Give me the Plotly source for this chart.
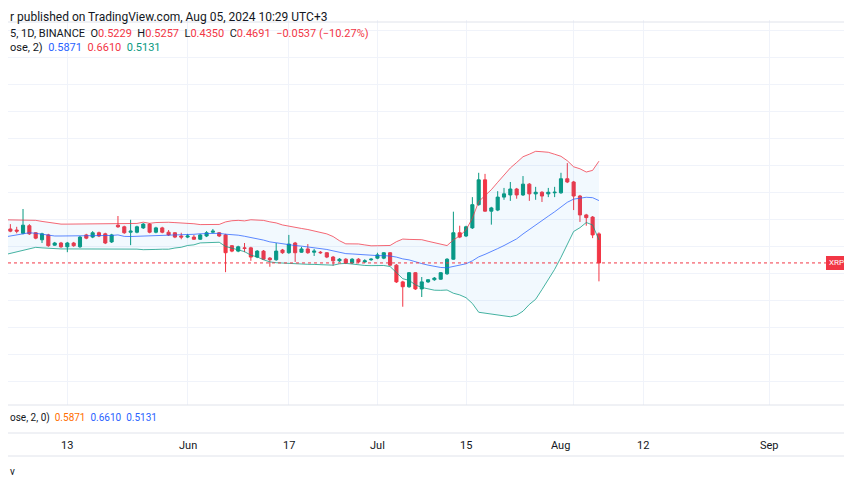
import pandas as pd
import plotly.graph_objects as go

dates = pd.date_range("2024-05-03", "2024-08-05", freq="D")
opens = [.517,.532,.530,.524,.538,.525,.512,.521,.502,.506,.499,.506,.499,.521,.517,.525,.523,.508,.539,.536,
         .526,.526,.534,.541,.526,.534,.526,.525,.519,.517,.517,.513,.519,.526,.525,.521,.501,.491,.497,.497,
         .480,.491,.478,.475,.493,.488,.506,.489,.495,.489,.489,.488,.480,.473,.476,.469,.476,.471,.475,.478,
         .478,.488,.465,.434,.425,.451,.421,.434,.438,.439,.449,.476,.525,.519,.534,.577,.623,.565,.567,.591,
         .595,.606,.595,.615,.597,.600,.597,.599,.599,.625,.619,.593,.558,.554,.5229]
highs = [.536,.541,.536,.569,.541,.526,.525,.523,.508,.508,.508,.508,.519,.523,.528,.527,.525,.523,.556,.538,
         .549,.538,.543,.543,.536,.536,.530,.526,.525,.523,.521,.523,.528,.532,.526,.523,.502,.501,.506,.499,
         .493,.493,.480,.506,.495,.521,.508,.499,.504,.495,.491,.489,.482,.478,.478,.478,.478,.476,.478,.488,
         .489,.489,.467,.436,.452,.452,.443,.439,.443,.452,.478,.564,.538,.538,.591,.636,.634,.573,.602,.608,
         .619,.608,.630,.617,.610,.602,.608,.610,.636,.654,.621,.595,.560,.556,.5257]
lows = [.515,.526,.524,.522,.521,.513,.506,.499,.501,.497,.489,.499,.497,.513,.515,.517,.504,.506,.534,.523,
        .502,.524,.532,.524,.524,.524,.519,.515,.513,.515,.512,.512,.517,.524,.517,.452,.489,.489,.489,.473,
        .478,.475,.462,.473,.486,.486,.471,.488,.486,.482,.486,.478,.464,.471,.467,.467,.469,.469,.473,.476,
        .476,.464,.432,.388,.423,.419,.406,.432,.436,.438,.447,.475,.515,.517,.532,.575,.564,.540,.565,.586,
        .584,.588,.593,.584,.586,.582,.591,.591,.597,.617,.567,.545,.538,.515,.4350]
closes = [.532,.528,.528,.539,.523,.515,.523,.501,.506,.499,.506,.501,.517,.515,.525,.519,.506,.521,.536,.525,
          .528,.536,.541,.526,.534,.526,.521,.517,.517,.519,.513,.521,.525,.528,.519,.488,.491,.499,.496,.480,
          .491,.476,.475,.491,.488,.504,.488,.495,.488,.491,.488,.480,.473,.476,.469,.476,.471,.473,.476,.484,
          .488,.465,.434,.425,.451,.421,.434,.438,.441,.451,.476,.525,.517,.536,.577,.623,.565,.571,.591,.597,
          .606,.595,.615,.597,.600,.593,.600,.600,.625,.619,.593,.558,.553,.521,.4691]
# band values for the first 19 sessions (before 20-day window fills)
upper_head = [.549,.549,.549,.549,.549,.548,.546,.544,.542,.541,.541,.541,.541,.541,.541,.541,.541,.541,.541]
basis_head = [.517,.519,.521,.523,.525,.524,.522,.520,.519,.519,.519,.519,.519,.519,.519,.519,.520,.520,.521]
lower_head = [.484,.487,.490,.492,.496,.498,.497,.496,.495,.495,.495,.495,.495,.495,.495,.495,.495,.496,.496]
tick_dates = ["2024-05-13", "2024-06-01", "2024-06-17", "2024-07-01", "2024-07-15", "2024-07-30", "2024-08-12", "2024-09-01"]
tick_text = ["13", "Jun", "17", "Jul", "15", "Aug", "12", "Sep"]
last_close = 0.4691

c = pd.Series(closes)
sma = c.rolling(20).mean()
sd = c.rolling(20).std(ddof=0)
basis = list(basis_head) + list(sma[19:])
upper = list(upper_head) + list((sma + 2 * sd)[19:])
lower = list(lower_head) + list((sma - 2 * sd)[19:])

H = 485
OFF = 8  # page body offset
def py(p):
    return 1 - (p - OFF) / H
def px(p):
    return (p - OFF) / 852

fig = go.Figure()
fig.add_trace(go.Scatter(x=dates, y=upper, mode="lines", line=dict(color="rgba(242,54,69,0.75)", width=1), hoverinfo="skip"))
fig.add_trace(go.Scatter(x=dates, y=lower, mode="lines", line=dict(color="rgba(8,153,129,0.75)", width=1),
                         fill="tonexty", fillcolor="rgba(33,150,243,0.06)", hoverinfo="skip"))
fig.add_trace(go.Scatter(x=dates, y=basis, mode="lines", line=dict(color="rgba(41,98,255,0.75)", width=1), hoverinfo="skip"))
fig.add_trace(go.Candlestick(x=dates, open=opens, high=highs, low=lows, close=closes,
                             increasing=dict(line=dict(color="#089981", width=1), fillcolor="#089981"),
                             decreasing=dict(line=dict(color="#F23645", width=1), fillcolor="#F23645"),
                             whiskerwidth=0))

fig.update_layout(
    width=852, height=485, margin=dict(l=0, r=0, t=0, b=0),
    paper_bgcolor="white", plot_bgcolor="white", showlegend=False,
    font=dict(family="Roboto, DejaVu Sans", size=11, color="#131722"),
    xaxis=dict(type="date", range=["2024-05-03 15:00", "2024-09-15 06:00"], rangeslider=dict(visible=False),
               tickvals=["2024-05-13", "2024-06-01", "2024-06-17", "2024-07-01", "2024-07-15", "2024-08-01", "2024-08-12", "2024-09-01"],
               ticktext=[""] * 8, showgrid=True, gridcolor="#f0f3fa",
               zeroline=False, showline=False, ticks=""),
    yaxis=dict(domain=[py(405), py(20)], range=[0.206, 0.919], dtick=0.05, tick0=0, showgrid=True,
               gridcolor="#f0f3fa", showticklabels=False, zeroline=False),
)

shapes = [
    dict(type="line", xref="paper", yref="y", x0=0, x1=1, y0=last_close, y1=last_close,
         line=dict(color="#F23645", width=1, dash="dot")),
    dict(type="line", xref="paper", yref="paper", x0=0, x1=1, y0=py(22), y1=py(22), line=dict(color="#e0e3eb", width=1)),
    dict(type="line", xref="paper", yref="paper", x0=0, x1=1, y0=py(405), y1=py(405), line=dict(color="#e0e3eb", width=1)),
    dict(type="line", xref="paper", yref="paper", x0=0, x1=1, y0=py(433), y1=py(433), line=dict(color="#e0e3eb", width=1)),
    dict(type="line", xref="paper", yref="paper", x0=0, x1=1, y0=py(456), y1=py(456), line=dict(color="#e0e3eb", width=1)),
    dict(type="rect", xref="paper", yref="y", x0=px(826), x1=1, y0=last_close - 0.013, y1=last_close + 0.013,
         fillcolor="#F23645", line=dict(width=0)),
]
fig.update_layout(shapes=shapes)

ann = [
    dict(x=0, y=1, yanchor="top", text="r published on TradingView.com, Aug 05, 2024 10:29 UTC+3", font=dict(size=12)),
    dict(x=0, y=py(33), text="5, 1D, BINANCE  O<span style='color:#F23645'>0.5229</span>  H<span style='color:#F23645'>0.5257</span>  "
         "L<span style='color:#F23645'>0.4350</span>  C<span style='color:#F23645'>0.4691</span>  "
         "<span style='color:#F23645'>−0.0537 (−10.27%)</span>"),
    dict(x=0, y=py(47), text="ose, 2)  <span style='color:#2962FF'>0.5871</span>  <span style='color:#F23645'>0.6610</span>  "
         "<span style='color:#089981'>0.5131</span>"),
    dict(x=0, y=py(418), text="ose, 2, 0)  <span style='color:#FF6D00'>0.5871</span>  <span style='color:#2962FF'>0.6610</span>  "
         "<span style='color:#2962FF'>0.5131</span>", font=dict(size=10)),
    dict(x=0, y=py(471), text="v", font=dict(size=10)),
]
annotations = []
for a in ann:
    a.setdefault("yanchor", "middle")
    annotations.append(dict(xref="paper", yref="paper", xanchor="left", showarrow=False, **a))
for d, t in zip(tick_dates, tick_text):
    annotations.append(dict(x=d, xref="x", y=py(445), yref="paper", text=t, showarrow=False,
                            xanchor="center", yanchor="middle", font=dict(size=11)))
annotations.append(dict(x=px(827), xref="paper", y=last_close, yref="y", text="XRP", showarrow=False,
                        xanchor="left", yanchor="middle", font=dict(size=8, color="white")))
fig.update_layout(annotations=annotations)

fig.write_html("out.html")
